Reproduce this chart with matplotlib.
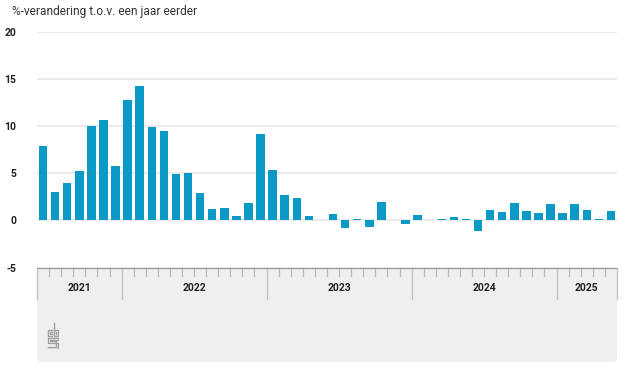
import numpy as np
import matplotlib.pyplot as plt
from matplotlib.patches import FancyBboxPatch, Rectangle

# jun 2021 - mei 2025, %-verandering t.o.v. een jaar eerder
values_2021 = [7.9, 3.0, 4.0, 5.2, 10.0, 10.6, 5.8]
values_2022 = [12.8, 14.3, 9.9, 9.5, 4.9, 5.0, 2.9, 1.2, 1.3, 0.5, 1.9, 9.2]
values_2023 = [5.3, 2.7, 2.4, 0.5, 0.0, 0.7, -0.8, 0.2, -0.7, 2.0, 0.0, -0.4]
values_2024 = [0.6, 0.0, 0.2, 0.4, 0.2, -1.1, 1.1, 0.9, 1.9, 1.0, 0.8, 1.7]
values_2025 = [0.8, 1.7, 1.1, 0.2, 1.0]

years = ['2021', '2022', '2023', '2024', '2025']
months_per_year = [7, 12, 12, 12, 5]
yticks = [-5, 0, 5, 10, 15, 20]
title = '%-verandering t.o.v. een jaar eerder'

values = values_2021 + values_2022 + values_2023 + values_2024 + values_2025
n = len(values)
x = np.arange(n)

plt.rcParams['font.family'] = 'Roboto'
plt.rcParams['axes.unicode_minus'] = False

W, H = 627, 371
fig = plt.figure(figsize=(W / 100, H / 100), dpi=100)

# ========= main plot ===========
left, right = 37, 617
top, bottom = 31.7, 267.7
ax = fig.add_axes([left / W, (H - bottom) / H, (right - left) / W, (bottom - top) / H])
ax.bar(x, values, width=0.7, color='#0b9ac6', zorder=3)
ax.set_xlim(-0.5, n - 0.5)
ax.set_ylim(-5, 20)
ax.set_yticks(yticks)
ax.set_xticks([])
ax.grid(axis='y', color='#e6e6e6', linewidth=1.2, zorder=0)
for s in ax.spines.values():
    s.set_visible(False)
ax.tick_params(axis='y', length=0, pad=15, labelsize=7.5, labelcolor='#222222')
for lab in ax.get_yticklabels():
    lab.set_fontweight('bold')

fig.text(12 / W, 1 - 11 / H, title, fontsize=8.6, color='#333333', va='center', ha='left')

# ========= x-axis band ===========
band_bottom = 362
gray = FancyBboxPatch((left / 100, (H - band_bottom) / 100), (right - left) / 100,
                      (band_bottom - bottom) / 100,
                      boxstyle='round,pad=0,rounding_size=0.05',
                      transform=fig.dpi_scale_trans, facecolor='#efefef',
                      edgecolor='none', zorder=-2)
fig.add_artist(gray)
fig.add_artist(Rectangle((left / 100, (H - bottom - 20) / 100), (right - left) / 100, 0.2,
                         transform=fig.dpi_scale_trans, facecolor='#efefef',
                         edgecolor='none', zorder=-2))

band = fig.add_axes([left / W, (H - band_bottom) / H, (right - left) / W,
                     (band_bottom - bottom) / H], sharex=ax)
band.set_facecolor('none')
band.set_ylim(band_bottom - bottom, 0)
band.axis('off')

band.axhline(0, color='#9b9b9b', linewidth=1.6, zorder=5)
bounds = np.cumsum([0] + months_per_year) - 0.5
month_edges = np.arange(n + 1) - 0.5
for m in month_edges:
    if m in bounds:
        band.plot([m, m], [0, 31], color='#c4c4c4', linewidth=1.0, clip_on=False)
    else:
        band.plot([m, m], [0, 8], color='#b8b8b8', linewidth=0.9, clip_on=False)
for i, yr in enumerate(years):
    xc = (bounds[i] + bounds[i + 1]) / 2
    band.text(xc, 20.5, yr, ha='center', va='center', fontsize=7.5,
              color='#222222', fontweight='bold')

# cbs logo
logo = fig.add_axes([47 / W, (H - 349) / H, 12 / W, 27 / H])
logo.set_xlim(-0.5, 10.5)
logo.set_ylim(-0.5, 26.5)
logo.axis('off')
lc = '#a0a0a0'
lw = 1.0
logo.plot([4, 0, 0, 4], [19, 19, 13, 13], color=lc, lw=lw)
logo.plot([4, 2, 2, 4], [17, 17, 15, 15], color=lc, lw=lw)
logo.plot([6, 6, 10, 10, 6], [26, 13, 13, 19, 19], color=lc, lw=lw)
logo.plot([8, 8, 8], [15, 16, 17], color=lc, lw=lw)
logo.plot([10, 0, 0, 10, 10, 0], [11, 11, 5.5, 5.5, 0, 0], color=lc, lw=lw)
logo.plot([10, 2, 2, 8, 8, 0], [9, 9, 7.5, 7.5, 2, 2], color=lc, lw=lw)

fig.savefig('out.png', dpi=100)
